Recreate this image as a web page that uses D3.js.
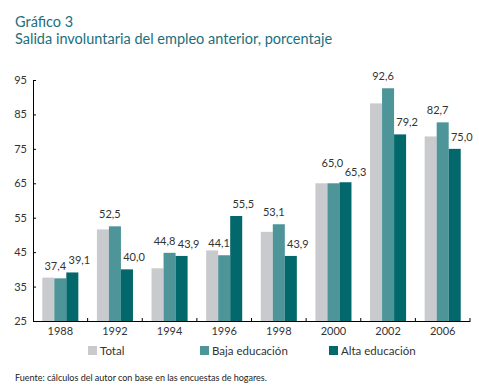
<!DOCTYPE html>
<html>
<head>
<meta charset="utf-8">
<script src="https://cdn.jsdelivr.net/npm/d3@7"></script>
<style>
  body { margin: 0; background: #fff; }
  svg { display: block; font-family: "Lato", "Open Sans", sans-serif; }
</style>
</head>
<body>
<svg id="chart" width="479" height="388"></svg>
<script>
// Salida involuntaria del empleo anterior, porcentaje
const years = ["1988", "1992", "1994", "1996", "1998", "2000", "2002", "2006"];
const series = ["Total", "Baja educación", "Alta educación"];
const total = [37.6, 51.6, 40.3, 45.5, 50.9, 65.0, 88.2, 78.6];
const baja = [37.4, 52.5, 44.8, 44.1, 53.1, 65.0, 92.6, 82.7];
const alta = [39.1, 40.0, 43.9, 55.5, 43.9, 65.3, 79.2, 75.0];
const yTicks = [25, 35, 45, 55, 65, 75, 85, 95];

const svg = d3.select("#chart");
const width = 479, height = 388;
const margin = { top: 80, right: 9, bottom: 67, left: 33 };

const values = [total, baja, alta];
const data = years.map((yr, i) => ({
  year: yr,
  vals: series.map((s, j) => ({ key: s, value: values[j][i], i }))
}));

const x = d3.scaleBand()
  .domain(years)
  .range([margin.left, width - margin.right])
  .paddingInner(0.34)
  .paddingOuter(0.17);

const xs = d3.scaleBand()
  .domain(series)
  .range([0, x.bandwidth()]);

const y = d3.scaleLinear()
  .domain([25, 95])
  .range([height - margin.bottom, margin.top]);

const color = d3.scaleOrdinal()
  .domain(series)
  .range(["#c9cacd", "#4e9599", "#02686b"]);

// Title
svg.append("text")
  .attr("x", 15).attr("y", 27)
  .style("font-size", "14.5px")
  .style("fill", "#1b6f7c")
  .text("Gráfico 3");
svg.append("text")
  .attr("x", 15).attr("y", 44)
  .style("font-size", "14.5px")
  .style("fill", "#1b6f7c")
  .text("Salida involuntaria del empleo anterior, porcentaje");

// Bars
const groups = svg.append("g")
  .selectAll("g")
  .data(data)
  .join("g")
  .attr("transform", d => `translate(${x(d.year)},0)`);

groups.selectAll("rect")
  .data(d => d.vals)
  .join("rect")
  .attr("x", d => xs(d.key))
  .attr("y", d => y(d.value))
  .attr("width", xs.bandwidth())
  .attr("height", d => y(25) - y(d.value))
  .attr("fill", d => color(d.key));

// Value labels (only for the education series); stagger when the two are level
const fmt = v => d3.format(".1f")(v).replace(".", ",");
const close = i => Math.abs(baja[i] - alta[i]) < 0.5;
groups.selectAll("text")
  .data(d => d.vals.filter(v => v.key !== "Total"))
  .join("text")
  .attr("x", d => {
    const c = xs(d.key) + xs.bandwidth() / 2;
    if (d.key === "Alta educación") return c + (close(d.i) ? 10 : 7);
    return c - (close(d.i) ? 1 : 5);
  })
  .attr("y", d => {
    if (!close(d.i)) return y(d.value) - 8;
    return d.key === "Alta educación" ? y(d.value) - 6 : y(d.value) - 16;
  })
  .attr("text-anchor", "middle")
  .style("font-size", "11px")
  .style("fill", "#333")
  .text(d => fmt(d.value));

// Axes
const xAxis = svg.append("g")
  .attr("transform", `translate(0,${height - margin.bottom})`)
  .call(d3.axisBottom(x).tickSize(0).tickPadding(6));
xAxis.select(".domain").attr("stroke", "#000");
xAxis.selectAll("text").style("font-size", "11px").style("fill", "#333")
  .style("font-family", "Lato, 'Open Sans', sans-serif");

// inner tick marks between categories
const step = x.step();
svg.append("g")
  .selectAll("line")
  .data(years)
  .join("line")
  .attr("x1", (d, i) => margin.left + step * (i + 1))
  .attr("x2", (d, i) => margin.left + step * (i + 1))
  .attr("y1", y(25))
  .attr("y2", y(25) - 3)
  .attr("stroke", "#000");

const yAxis = svg.append("g")
  .attr("transform", `translate(${margin.left},0)`)
  .call(d3.axisLeft(y).tickValues(yTicks).tickSize(0).tickPadding(6));
yAxis.select(".domain").attr("stroke", "#000");
yAxis.selectAll("text").style("font-size", "11px").style("fill", "#333")
  .style("font-family", "Lato, 'Open Sans', sans-serif");
yAxis.selectAll(".tick").append("line")
  .attr("x1", 0).attr("x2", 3)
  .attr("stroke", "#000");

// Legend
const legendX = [88, 200, 329];
const legend = svg.append("g").attr("transform", "translate(0,346)");
series.forEach((s, i) => {
  legend.append("rect")
    .attr("x", legendX[i]).attr("y", 0)
    .attr("width", 9).attr("height", 9)
    .attr("fill", color(s));
  legend.append("text")
    .attr("x", legendX[i] + 12).attr("y", 9)
    .style("font-size", "11.5px")
    .style("fill", "#333")
    .text(s);
});

// Source
svg.append("text")
  .attr("x", 15).attr("y", 381)
  .style("font-size", "9px")
  .style("fill", "#222")
  .text("Fuente: cálculos del autor con base en las encuestas de hogares.");
</script>
</body>
</html>
